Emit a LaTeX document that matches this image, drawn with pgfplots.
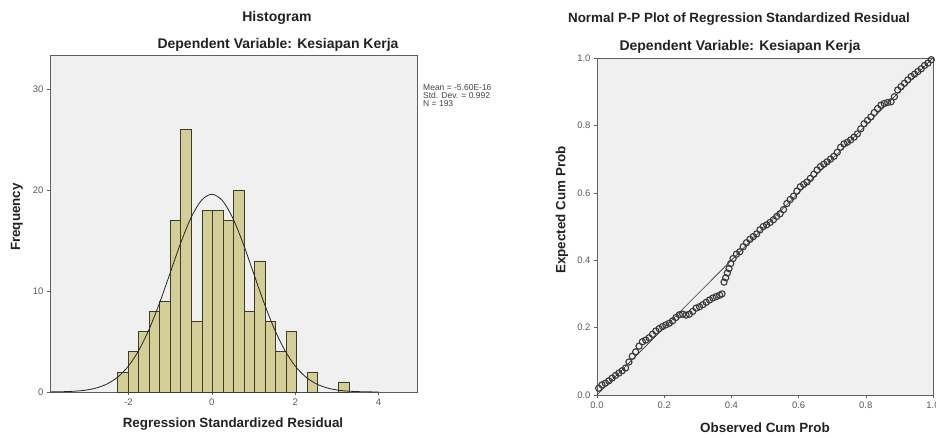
\documentclass[border=0pt]{standalone}
\usepackage{fontspec}
\setmainfont{Liberation Sans}
\usepackage{pgfplots}
\pgfplotsset{compat=1.18}
\definecolor{plotbg}{HTML}{F0F0F0}
\definecolor{barfill}{HTML}{D3CE97}
\definecolor{baredge}{HTML}{3C3C28}
\definecolor{frame}{HTML}{606060}
\definecolor{txt}{HTML}{222222}

\pgfplotsset{spss/.style={
    scale only axis,
    axis background/.style={fill=plotbg},
    axis line style={frame, line width=0.8pt},
    tick style={frame, line width=0.6pt},
    tick align=outside,
    major tick length=3pt,
    xtick pos=bottom, ytick pos=left,
    tick label style={font=\fontsize{9.5}{10}\selectfont, text=txt!75},
    /pgf/number format/assume math mode=true,
}}

\begin{document}
\begin{tikzpicture}
\path[use as bounding box] (0,0) rectangle (936pt,437pt);

% ---- histogram ----
\begin{axis}[spss,
    at={(50pt,45pt)}, anchor=south west,
    width=367pt, height=337pt,
    xmin=-3.88, xmax=4.92, ymin=0, ymax=33.4,
    xtick={-2,0,2,4}, ytick={0,10,20,30},
]
\addplot[ybar interval, fill=barfill, draw=baredge, line width=0.6pt] coordinates {
(-2.2600,2)(-2.0075,4)(-1.7550,6)(-1.5025,8)(-1.2500,9)(-0.9975,17)
(-0.7450,26)(-0.4925,7)(-0.2400,18)(0.0125,18)(0.2650,17)(0.5175,20)
(0.7700,8)(1.0225,13)(1.2750,7)(1.5275,4)(1.7800,6)(2.0325,0)
(2.2850,2)(2.5375,0)(2.7900,0)(3.0425,1)(3.2950,0)};
\addplot[black!85, line width=0.8pt, smooth] coordinates {
(-3.85,0.01)(-3.5,0.04)(-3.25,0.09)(-3.0,0.20)(-2.75,0.42)(-2.5,0.82)
(-2.25,1.50)(-2.0,2.57)(-1.75,4.14)(-1.5,6.25)(-1.25,8.86)(-1.0,11.79)
(-0.75,14.73)(-0.5,17.26)(-0.25,18.99)(0,19.6)(0.25,18.99)(0.5,17.26)
(0.75,14.73)(1.0,11.79)(1.25,8.86)(1.5,6.25)(1.75,4.14)(2.0,2.57)
(2.25,1.50)(2.5,0.82)(2.75,0.42)(3.0,0.20)(3.25,0.09)(3.5,0.04)(3.75,0.015)(4.0,0.005)};
\end{axis}

\node[font=\bfseries\fontsize{14}{16}\selectfont, text=txt] at (277pt,419pt) {Histogram};
\node[font=\bfseries\fontsize{14}{16}\selectfont, text=txt] at (278pt,392pt) {Dependent Variable: Kesiapan Kerja};
\node[font=\bfseries\fontsize{13.4}{15}\selectfont, text=txt] at (233pt,13pt) {Regression Standardized Residual};
\node[font=\bfseries\fontsize{13.4}{15}\selectfont, text=txt, rotate=90] at (17pt,220pt) {Frequency};
\node[font=\fontsize{8.5}{8.2}\selectfont, text=txt!85, anchor=north west, align=left, inner sep=0pt]
  at (423pt,353pt) {Mean = -5.60E-16\\Std. Dev. = 0.992\\N = 193};

% ---- normal P-P plot ----
\begin{axis}[spss,
    at={(597pt,42pt)}, anchor=south west,
    width=336pt, height=337pt,
    xmin=0, xmax=1, ymin=0, ymax=1,
    xtick={0,0.2,...,1}, ytick={0,0.2,...,1},
    xticklabel style={/pgf/number format/.cd, fixed, fixed zerofill, precision=1},
    yticklabel style={/pgf/number format/.cd, fixed, fixed zerofill, precision=1},
    clip=false,
]
\addplot[black!80, line width=0.6pt] coordinates {(0,0)(1,1)};
\addplot[only marks, mark=o, mark size=3.1pt, draw=black!78, line width=1.1pt] coordinates {
(0.005,0.020)(0.015,0.030)(0.025,0.035)(0.035,0.042)(0.045,0.050)(0.055,0.058)
(0.065,0.065)(0.075,0.072)(0.085,0.080)(0.095,0.098)(0.105,0.115)(0.115,0.128)
(0.125,0.145)(0.135,0.158)(0.145,0.163)(0.155,0.170)(0.165,0.180)(0.175,0.190)
(0.185,0.197)(0.195,0.203)(0.205,0.208)(0.215,0.213)(0.225,0.220)(0.235,0.230)
(0.245,0.238)(0.255,0.240)(0.265,0.237)(0.275,0.240)(0.285,0.248)(0.295,0.258)
(0.305,0.262)(0.315,0.268)(0.325,0.275)(0.335,0.282)(0.345,0.288)(0.355,0.292)
(0.365,0.296)(0.372,0.300)(0.378,0.335)(0.383,0.348)(0.388,0.362)(0.393,0.375)
(0.398,0.390)(0.405,0.405)(0.415,0.418)(0.425,0.425)(0.435,0.440)(0.445,0.452)
(0.455,0.462)(0.465,0.470)(0.475,0.478)(0.485,0.490)(0.495,0.500)(0.505,0.505)
(0.515,0.512)(0.525,0.520)(0.535,0.530)(0.545,0.538)(0.555,0.550)(0.565,0.568)
(0.575,0.580)(0.585,0.590)(0.595,0.605)(0.605,0.618)(0.615,0.625)(0.625,0.632)
(0.635,0.643)(0.645,0.655)(0.655,0.668)(0.665,0.678)(0.675,0.685)(0.685,0.692)
(0.695,0.700)(0.705,0.708)(0.715,0.720)(0.725,0.735)(0.735,0.745)(0.745,0.750)
(0.755,0.757)(0.765,0.765)(0.775,0.775)(0.785,0.790)(0.795,0.805)(0.805,0.815)
(0.815,0.825)(0.825,0.838)(0.835,0.850)(0.845,0.860)(0.855,0.865)(0.865,0.868)
(0.875,0.870)(0.885,0.885)(0.895,0.905)(0.905,0.915)(0.915,0.925)(0.925,0.935)
(0.935,0.945)(0.945,0.952)(0.955,0.960)(0.965,0.968)(0.975,0.978)(0.985,0.985)
(0.995,0.995)};
\end{axis}

\node[font=\bfseries\fontsize{13.4}{15}\selectfont, text=txt] at (739pt,418pt) {Normal P-P Plot of Regression Standardized Residual};
\node[font=\bfseries\fontsize{14}{16}\selectfont, text=txt] at (740pt,390pt) {Dependent Variable: Kesiapan Kerja};
\node[font=\bfseries\fontsize{13.4}{15}\selectfont, text=txt] at (765pt,9pt) {Observed Cum Prob};
\node[font=\bfseries\fontsize{13.4}{15}\selectfont, text=txt, rotate=90] at (562pt,227pt) {Expected Cum Prob};
\end{tikzpicture}
\end{document}
